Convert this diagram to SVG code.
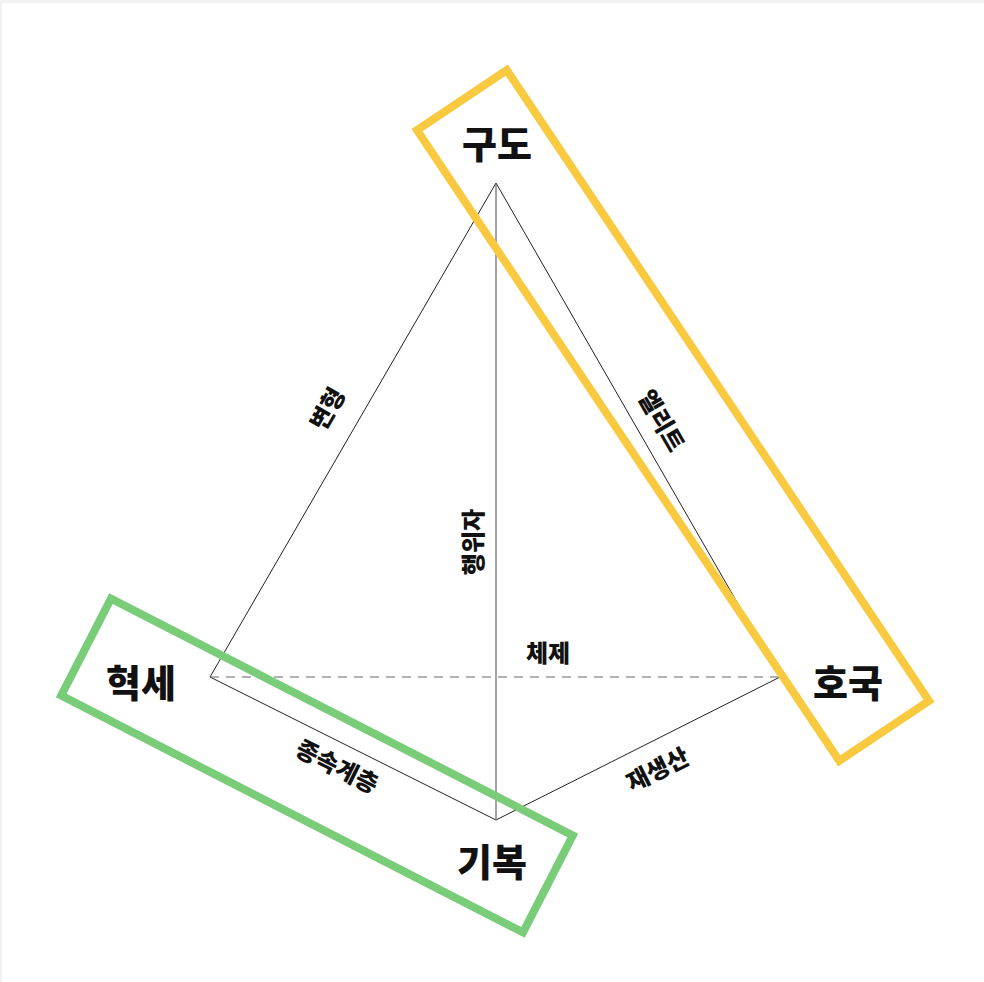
<svg xmlns="http://www.w3.org/2000/svg" width="984" height="982" viewBox="0 0 984 982">
<style>
.big{font-family:"Noto Sans CJK KR","Noto Sans",sans-serif;font-weight:900;font-size:38px;fill:#111;text-anchor:middle;dominant-baseline:central}
.lbl{font-family:"Noto Sans CJK KR","Noto Sans",sans-serif;font-weight:900;font-size:24px;fill:#111;text-anchor:middle;dominant-baseline:central}
.edge{stroke:#222;stroke-width:1;fill:none}
.box{fill:none;stroke-width:8}
</style>
<rect x="0" y="0" width="984" height="982" fill="#f2f2f2"/>
<rect x="2" y="3" width="982" height="979" fill="#ffffff"/>
<g id="connectors">
<line class="edge" x1="496" y1="183" x2="210" y2="677"/>
<line class="edge" x1="496" y1="183" x2="780" y2="677"/>
<line class="edge" x1="210" y1="677" x2="496" y2="820"/>
<line class="edge" x1="780" y1="677" x2="496" y2="820"/>
<line x1="496" y1="183" x2="496" y2="820" stroke="#666" stroke-width="1.2"/>
<line x1="210" y1="677" x2="780" y2="677" stroke="#666" stroke-width="1.2" stroke-dasharray="9,7"/>
<text class="lbl" transform="translate(326,408) rotate(-60)">변형</text>
<text class="lbl" transform="translate(663,420) rotate(60)">엘리트</text>
<text class="lbl" transform="translate(471,542) rotate(-90)">행위자</text>
<text class="lbl" x="548" y="651">체제</text>
<text class="lbl" transform="translate(338,765) rotate(26.6)">종속계층</text>
<text class="lbl" transform="translate(657,768) rotate(-26.7)">재생산</text>
</g>
<g id="group-elite">
<rect class="box" stroke="#F9C940" x="-379.5" y="-54" width="759" height="108" transform="translate(673,415.5) rotate(56.2)"/>
</g>
<g id="group-subordinate">
<rect class="box" stroke="#79CC78" x="-259.5" y="-54.5" width="519" height="109" transform="translate(317,765.5) rotate(27.15)"/>
</g>
<g id="node-gudo"><text class="big" x="497" y="141">구도</text></g>
<g id="node-hyeokse"><text class="big" x="141" y="680">혁세</text></g>
<g id="node-hoguk"><text class="big" x="848" y="680">호국</text></g>
<g id="node-gibok"><text class="big" x="492" y="859">기복</text></g>
</svg>
